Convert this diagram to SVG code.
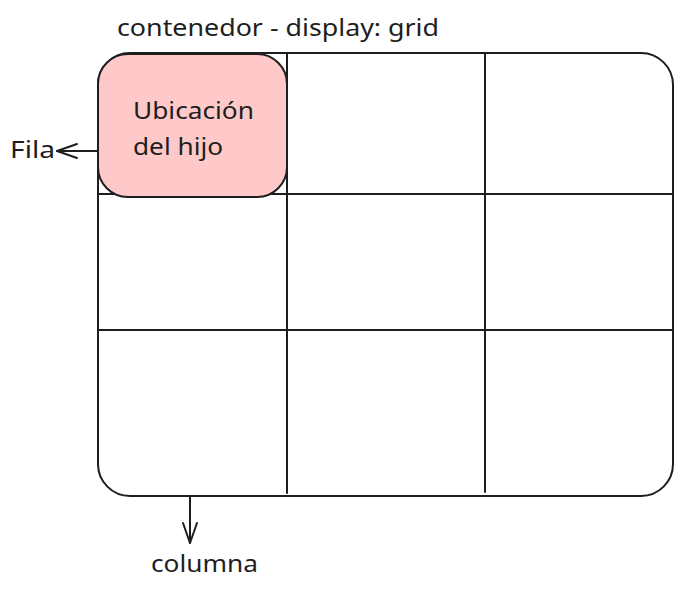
<svg xmlns="http://www.w3.org/2000/svg" width="685" height="590" viewBox="0 0 685 590">
<style>
.ln{fill:none;stroke:#1e1e1e;stroke-width:2;stroke-linecap:round}
.t{font-family:"Noto Sans","Lato",sans-serif;font-size:24px;fill:#1e1e1e}
</style>
<defs>
<marker id="ah" viewBox="0 0 24 20" refX="22" refY="10" markerWidth="24" markerHeight="20" markerUnits="userSpaceOnUse" orient="auto">
<path d="M2 3 L22 10 L2 17" fill="none" stroke="#1e1e1e" stroke-width="2" stroke-linecap="round" stroke-linejoin="round"/>
</marker>
</defs>
<rect width="685" height="590" fill="#ffffff"/>
<g id="contenedor">
<rect class="ln" x="98" y="53" width="575" height="443" rx="32"/>
<line class="ln" x1="287" y1="53" x2="287" y2="493"/>
<line class="ln" x1="485" y1="53" x2="485" y2="492"/>
<line class="ln" x1="98" y1="194" x2="673" y2="194"/>
<line class="ln" x1="99" y1="330" x2="673" y2="330"/>
<text class="t" x="117" y="36" textLength="322" lengthAdjust="spacingAndGlyphs">contenedor - display: grid</text>
</g>
<g id="hijo">
<rect x="98" y="54" width="189" height="143" rx="30" fill="#ffc9c9" stroke="#1e1e1e" stroke-width="2"/>
<text class="t" x="133" y="119" textLength="121" lengthAdjust="spacingAndGlyphs">Ubicación</text>
<text class="t" x="133" y="155" textLength="90" lengthAdjust="spacingAndGlyphs">del hijo</text>
</g>
<g id="fila">
<text class="t" x="10" y="158" textLength="45" lengthAdjust="spacingAndGlyphs">Fila</text>
</g>
<g id="columna">
<text class="t" x="151" y="572" textLength="107" lengthAdjust="spacingAndGlyphs">columna</text>
</g>
<g id="connectors">
<line class="ln" x1="97" y1="151" x2="57" y2="151" marker-end="url(#ah)"/>
<line class="ln" x1="190" y1="496" x2="190" y2="543" marker-end="url(#ah)"/>
</g>
</svg>
